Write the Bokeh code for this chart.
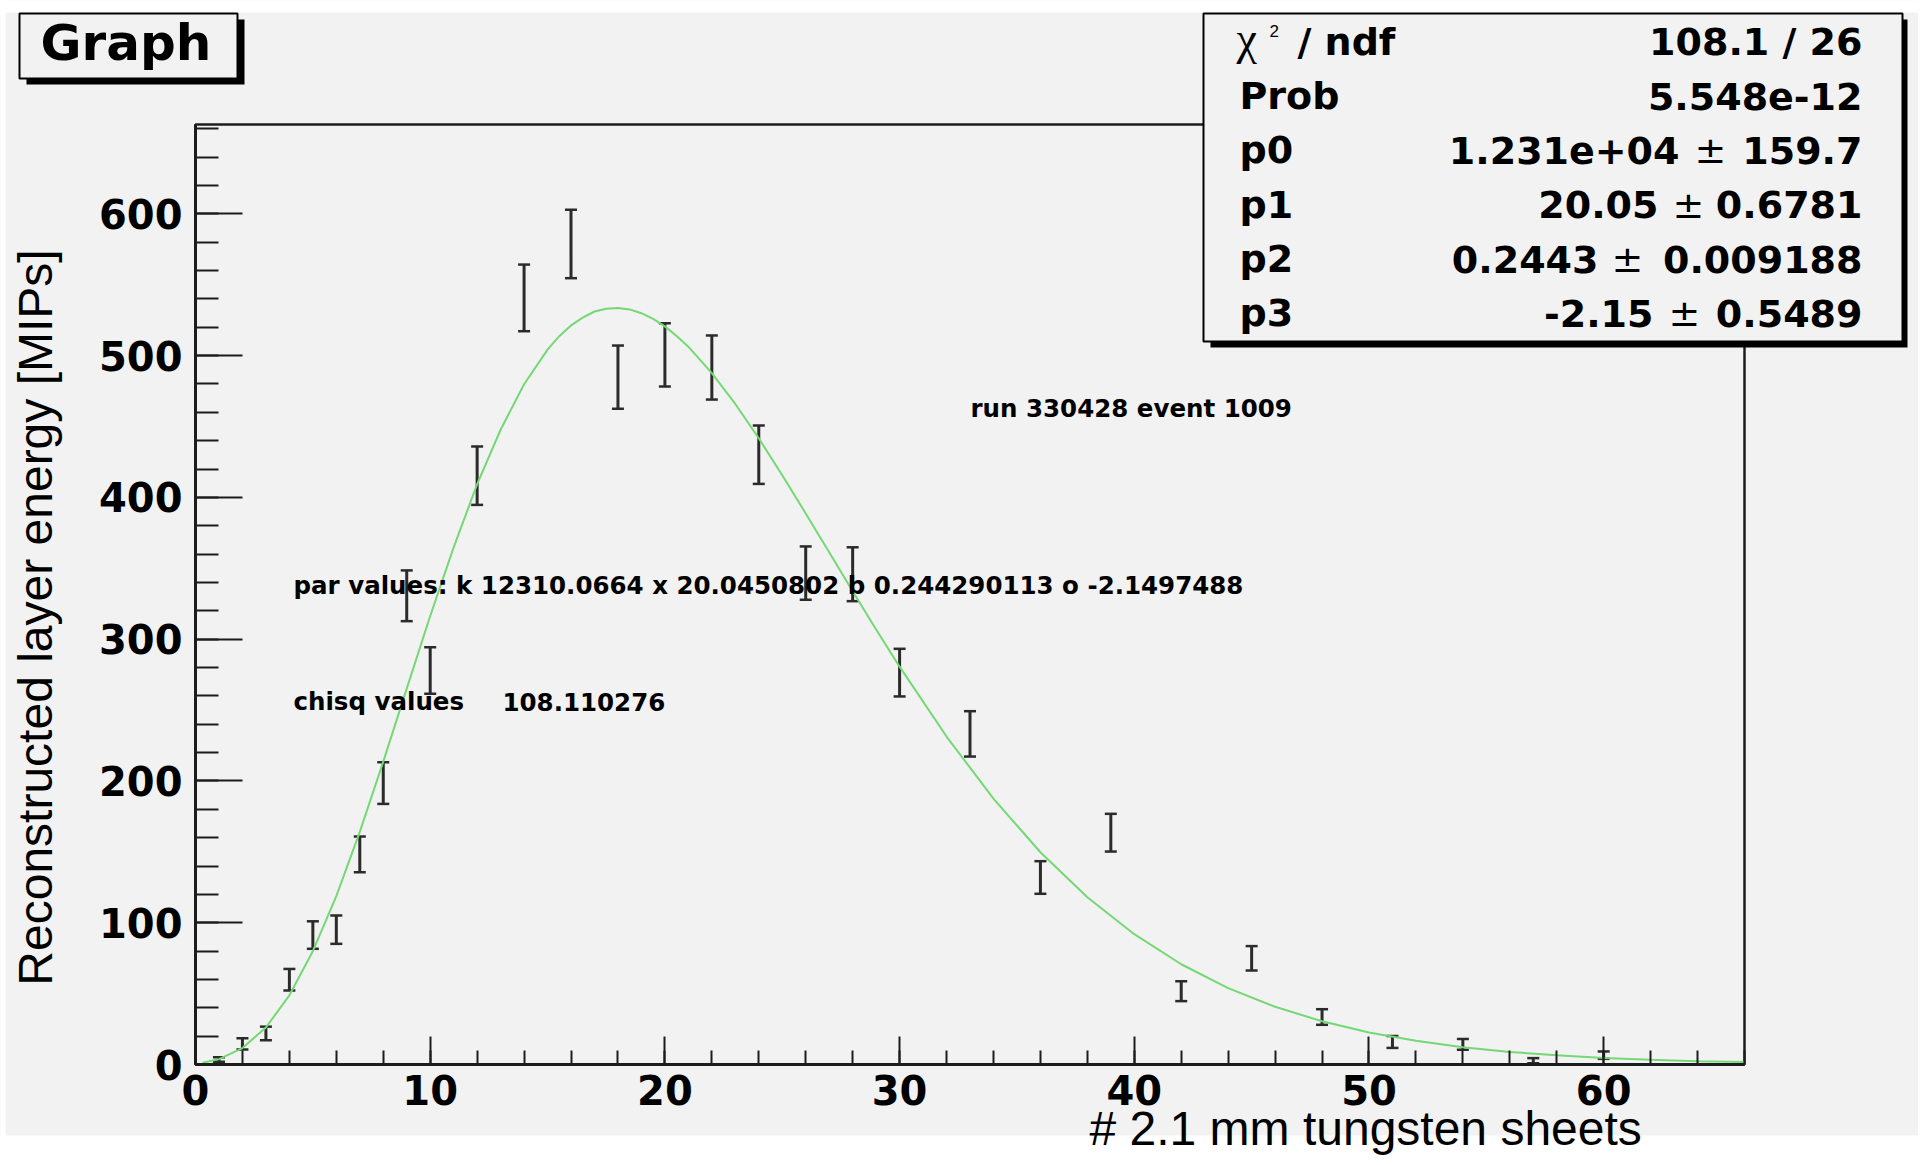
from math import pi
from bokeh.plotting import figure
from bokeh.models import (Range1d, SingleIntervalTicker, ColumnDataSource, Whisker,
                          TeeHead, Label, LinearAxis)
from bokeh.embed import file_html
from bokeh.resources import INLINE

# ---------------- data ----------------
layers = [1, 2, 3, 4, 5, 6, 7, 8, 9, 10, 12, 14, 16, 18, 20, 22, 24, 26, 28, 30,
          33, 36, 39, 42, 45, 48, 51, 54, 57, 60]
energy = [3.5, 14.6, 21.9, 59.8, 91.3, 95.1, 148.2, 198.5, 330.6, 277.9, 415.3,
          540.7, 578.7, 484.8, 500.5, 491.6, 430.1, 346.6, 345.8, 276.4,
          233.2, 131.9, 163.5, 51.7, 74.9, 33.5, 15.9, 14.2, 2.7, 6.6]
energy_err = [1.6, 4.0, 4.8, 7.6, 9.7, 10.0, 12.6, 14.7, 17.9, 16.4, 20.6,
              23.5, 24.1, 22.3, 22.3, 22.6, 20.6, 18.8, 19.0, 16.8,
              16.0, 11.5, 13.3, 7.0, 8.6, 5.5, 4.2, 3.8, 1.8, 2.6]

# fitted curve as it appears in the picture
fit_x = [0.3, 1, 2, 3, 4, 5, 6, 7, 8, 9, 10, 11, 12, 13, 14, 15, 15.5, 16, 16.5, 17,
         17.5, 18, 18.5, 19, 19.5, 20, 20.5, 21, 22, 23, 24, 25, 26, 27, 28, 29, 30,
         32, 34, 36, 38, 40, 42, 44, 46, 48, 50, 52, 54, 56, 58, 60, 62, 64, 66]
fit_y = [1.3, 3.8, 11.6, 26.1, 48.8, 79.9, 118.8, 164.1, 213.6, 265.1, 316.3, 364.7,
         409.3, 447.7, 479.8, 504.2, 513.7, 521.3, 526.8, 531.1, 533.1, 533.5, 532.6,
         529.9, 525.9, 520.6, 513.8, 506.3, 487.6, 465.9, 441.7, 415.6, 388.7, 361.3,
         333.8, 306.8, 280.6, 231.3, 187.5, 149.7, 118.0, 91.9, 70.7, 53.9, 40.7,
         30.5, 22.6, 16.7, 12.2, 8.9, 6.45, 4.65, 3.33, 2.37, 1.69]

stat_names = ["Prob", "p0", "p1", "p2", "p3"]
stat_chi = "108.1 / 26"
stat_prob = "5.548e-12"
par_vals = ["1.231e+04", "20.05", "0.2443", "-2.15"]
par_errs = ["159.7", "0.6781", "0.009188", "0.5489"]

title_text = "Graph"
run_text = "run 330428 event 1009"
par_text = "par values: k 12310.0664 x 20.0450802 b 0.244290113 o -2.1497488"
chisq_label = "chisq values"
chisq_value = "108.110276"
x_title = "# 2.1 mm tungsten sheets"
y_title = "Reconstructed layer energy [MIPs]"

# ---------------- layout helpers (page pixels -> data) ----------------
X0, X1, Y0, Y1 = 0, 66, 0, 663
FL, FR, FT, FB = 195, 1744, 124, 1064     # plot frame in page pixels
W, H = 1918, 1157


def dx(px):
    return X0 + (px - FL) * (X1 - X0) / (FR - FL)


def dy(py):
    return Y0 + (FB - py) * (Y1 - Y0) / (FB - FT)


p = figure(width=W, height=H,
           x_range=Range1d(dx(0), dx(W)),
           y_range=Range1d(dy(H), dy(0)),
           x_axis_type=None, y_axis_type=None,
           output_backend="svg", toolbar_location=None, min_border=0)

BG = "#f2f2f2"
DARK = "#1c1c1c"
p.background_fill_color = BG
p.border_fill_color = BG
p.outline_line_color = None
p.grid.visible = False

# white margins of the page outside the ROOT canvas
p.quad(left=dx(-10), right=dx(1940), top=dy(-10), bottom=dy(12),
       fill_color="white", line_color=None)
p.quad(left=dx(-10), right=dx(5), top=dy(-10), bottom=dy(1200),
       fill_color="white", line_color=None)
p.quad(left=dx(-10), right=dx(1940), top=dy(1135), bottom=dy(1200),
       fill_color="white", line_color=None)

# frame box of the pad
p.quad(left=X0, right=X1, bottom=Y0, top=Y1, fill_alpha=0,
       line_color=DARK, line_width=2.5)

# axes fixed on the pad edges
xax = LinearAxis(fixed_location=Y0, bounds=(X0, X1),
                 ticker=SingleIntervalTicker(interval=10, num_minor_ticks=5))
yax = LinearAxis(fixed_location=X0, bounds=(Y0, Y1),
                 ticker=SingleIntervalTicker(interval=100, num_minor_ticks=5))
for ax in (xax, yax):
    ax.axis_line_color = DARK
    ax.axis_line_width = 3
    ax.major_tick_out = 0
    ax.minor_tick_out = 0
    ax.major_tick_line_color = DARK
    ax.minor_tick_line_color = DARK
    ax.major_tick_line_width = 2
    ax.minor_tick_line_width = 2
    ax.major_label_text_font = "DejaVu Sans"
    ax.major_label_text_font_style = "bold"
    ax.major_label_text_font_size = "40px"
    ax.major_label_text_color = "black"
xax.major_tick_in = 28
xax.minor_tick_in = 14
yax.major_tick_in = 47
yax.minor_tick_in = 23
yax.major_label_standoff = 13
xax.major_label_standoff = 10
p.add_layout(xax, "below")
p.add_layout(yax, "left")

# fitted curve
p.line(fit_x, fit_y, line_color="#74d874", line_width=2)

# error bars
src = ColumnDataSource(dict(x=layers,
                            lower=[v - e for v, e in zip(energy, energy_err)],
                            upper=[v + e for v, e in zip(energy, energy_err)]))
BAR = "#2b2b2b"
wh = Whisker(base="x", lower="lower", upper="upper", source=src, dimension="height",
             line_color=BAR, line_width=3,
             lower_head=TeeHead(size=12, line_color=BAR, line_width=2.5),
             upper_head=TeeHead(size=12, line_color=BAR, line_width=2.5))
p.add_layout(wh)

# "Graph" title box with shadow
p.quad(left=dx(26), right=dx(244), top=dy(19), bottom=dy(84),
       fill_color="black", line_color=None)
p.quad(left=dx(19), right=dx(237), top=dy(13), bottom=dy(78),
       fill_color=BG, line_color="black", line_width=2)

# stats box with shadow
p.quad(left=dx(1210), right=dx(1907), top=dy(19), bottom=dy(347),
       fill_color="black", line_color=None)
p.quad(left=dx(1203), right=dx(1902), top=dy(13), bottom=dy(341),
       fill_color=BG, line_color="black", line_width=2)

K = 0.36  # empirical offset of the rendered baseline, in em


def lab(px, py, text, size=38, font="DejaVu Sans", style="bold", align="left",
        angle=0.0, color="black"):
    if angle:
        px = px - K * size
    else:
        py = py - K * size
    p.add_layout(Label(x=dx(px), y=dy(py), text=text, text_font=font,
                       text_font_style=style, text_font_size=f"{size}px",
                       text_color=color, text_align=align,
                       text_baseline="alphabetic", angle=angle))


lab(40, 60, title_text, size=50)

LX, RX = 1239, 1862
rows_y = [55, 109.3, 163.6, 217.9, 272.2, 326.5]
lab(1236, 55, "\u03c7", size=46, font="Liberation Serif", style="normal")
lab(1269, 37, "2", size=17, font="Liberation Sans", style="normal")
lab(1297, 55, "/ ndf")
lab(RX, rows_y[0], stat_chi, align="right")
for name, yy in zip(stat_names, rows_y[1:]):
    lab(LX, yy, name)
lab(RX, rows_y[1], stat_prob, align="right")
pm_centers = [1710, 1688, 1627, 1684]
val_right = [1679, 1658, 1598, 1653]
for v, e, yy, pc, vr in zip(par_vals, par_errs, rows_y[2:], pm_centers, val_right):
    lab(vr, yy, v, align="right")
    lab(pc, yy, "\u00b1", style="normal", align="center")
    lab(RX, yy, e, align="right")

# texts inside the pad
lab(970, 417, run_text, size=24.5)
lab(293, 594, par_text, size=24.5)
lab(293, 710, chisq_label, size=24.5)
lab(502, 710, chisq_value, size=24.5)

# axis titles
lab(1089, 1145, x_title, size=48, font="Liberation Sans", style="normal")
lab(52, 617, y_title, size=48, font="Liberation Sans", style="normal",
    align="center", angle=pi / 2)

open("out.html", "w").write(file_html(p, INLINE))
